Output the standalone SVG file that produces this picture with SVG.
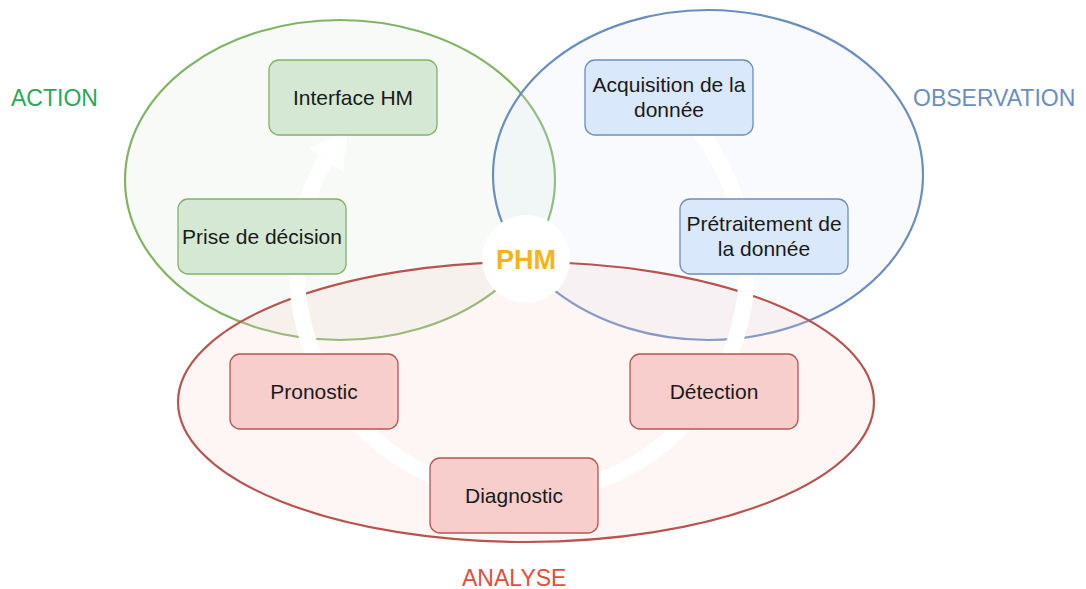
<svg xmlns="http://www.w3.org/2000/svg" width="1086" height="589" viewBox="0 0 1086 589">
<style>
text{font-family:"Liberation Sans",Arial,sans-serif}
.t{font-size:21px;fill:#1a1a1a;text-anchor:middle}
.lbl{font-size:23px;text-anchor:start}
.g rect{fill:#d5e8d4;stroke:#82b366;stroke-width:1.3}
.b rect{fill:#dae8fc;stroke:#6c8ebf;stroke-width:1.3}
.r rect{fill:#f8cecc;stroke:#b85450;stroke-width:1.3}
.ell{stroke-width:2.2;fill-opacity:0.2}
</style>
<rect width="1086" height="589" fill="#ffffff"/>
<g id="zones">
<ellipse id="zone-action" class="ell" cx="340" cy="180" rx="215" ry="160" fill="#d5e8d4" stroke="#82b366"/>
<ellipse id="zone-observation" class="ell" cx="708" cy="175" rx="215" ry="165" fill="#dae8fc" stroke="#6c8ebf"/>
<ellipse id="zone-analyse" class="ell" cx="526" cy="402" rx="348" ry="140" fill="#f8cecc" stroke="#b85450"/>
</g>
<g id="connectors">
<path d="M 700 132 A 225 225 0 1 1 325 160" fill="none" stroke="#ffffff" stroke-width="16"/>
<polygon points="347,131 309,148 343,172" fill="#ffffff"/>
</g>
<g id="phm">
<circle cx="526" cy="259" r="44" fill="#ffffff"/>
<text x="526" y="269" font-size="27" font-weight="bold" fill="#f5b317" text-anchor="middle">PHM</text>
</g>
<g id="interface-hm" class="g"><rect x="269" y="60" width="168" height="75" rx="10"/><text class="t" x="353" y="105">Interface HM</text></g>
<g id="prise-decision" class="g"><rect x="178" y="199" width="168" height="75" rx="10"/><text class="t" x="262" y="244">Prise de décision</text></g>
<g id="acquisition" class="b"><rect x="585" y="60" width="168" height="75" rx="10"/><text class="t" x="669" y="92">Acquisition de la</text><text class="t" x="669" y="117">donnée</text></g>
<g id="pretraitement" class="b"><rect x="680" y="199" width="168" height="75" rx="10"/><text class="t" x="764" y="231">Prétraitement de</text><text class="t" x="764" y="256">la donnée</text></g>
<g id="pronostic" class="r"><rect x="230" y="354" width="168" height="75" rx="10"/><text class="t" x="314" y="399">Pronostic</text></g>
<g id="detection" class="r"><rect x="630" y="354" width="168" height="75" rx="10"/><text class="t" x="714" y="399">Détection</text></g>
<g id="diagnostic" class="r"><rect x="430" y="458" width="168" height="75" rx="10"/><text class="t" x="514" y="503">Diagnostic</text></g>
<g id="labels">
<text class="lbl" x="11" y="106" fill="#27a85a">ACTION</text>
<text class="lbl" x="913" y="106" fill="#6c8ebf">OBSERVATION</text>
<text class="lbl" x="462" y="586" fill="#e74c3c">ANALYSE</text>
</g>
</svg>
